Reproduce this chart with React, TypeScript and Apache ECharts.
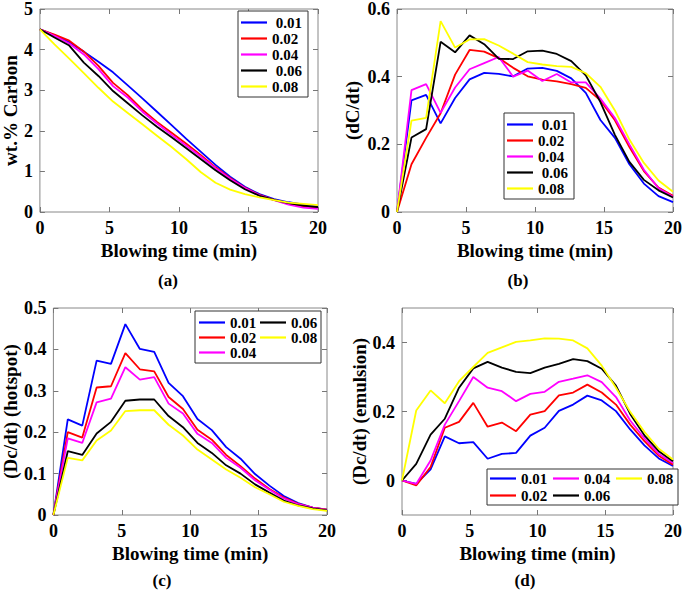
import React, { useEffect, useRef } from "react";
import * as echarts from "echarts";

// Blowing time (min) sample points
const TIME = [0, 1.05, 2.11, 3.16, 4.21, 5.26, 6.32, 7.37, 8.42, 9.47, 10.53, 11.58, 12.63, 13.68, 14.74, 15.79, 16.84, 17.89, 18.95, 20];

const NAMES = ["0.01", "0.02", "0.04", "0.06", "0.08"];
const COLORS = ["#0000ff", "#ff0000", "#ff00ff", "#000000", "#ffff00"];

// (a) wt.% Carbon
const a01 = [4.5, 4.35, 4.18, 3.95, 3.7, 3.44, 3.12, 2.8, 2.47, 2.14, 1.8, 1.48, 1.16, 0.87, 0.62, 0.44, 0.32, 0.24, 0.18, 0.13];
const a02 = [4.5, 4.37, 4.22, 3.95, 3.6, 3.18, 2.88, 2.52, 2.22, 1.95, 1.68, 1.4, 1.1, 0.84, 0.6, 0.42, 0.3, 0.2, 0.14, 0.11];
const a04 = [4.5, 4.34, 4.15, 3.88, 3.52, 3.1, 2.82, 2.47, 2.18, 1.9, 1.63, 1.36, 1.08, 0.82, 0.59, 0.41, 0.29, 0.18, 0.11, 0.08];
const a06 = [4.5, 4.3, 4.1, 3.68, 3.35, 2.98, 2.68, 2.38, 2.1, 1.84, 1.57, 1.3, 1.03, 0.78, 0.56, 0.4, 0.3, 0.22, 0.16, 0.12];
const a08 = [4.5, 4.13, 3.78, 3.42, 3.06, 2.72, 2.44, 2.16, 1.88, 1.6, 1.3, 0.98, 0.72, 0.55, 0.44, 0.36, 0.29, 0.23, 0.2, 0.17];

// (b) dC/dt
const b01 = [0, 0.33, 0.346, 0.262, 0.337, 0.392, 0.411, 0.408, 0.401, 0.424, 0.426, 0.417, 0.395, 0.352, 0.272, 0.219, 0.141, 0.084, 0.047, 0.029];
const b02 = [0, 0.141, 0.219, 0.292, 0.406, 0.479, 0.474, 0.455, 0.426, 0.401, 0.391, 0.386, 0.378, 0.367, 0.33, 0.271, 0.192, 0.121, 0.072, 0.048];
const b04 = [0, 0.36, 0.378, 0.293, 0.368, 0.422, 0.44, 0.458, 0.4, 0.418, 0.387, 0.408, 0.383, 0.383, 0.335, 0.278, 0.2, 0.125, 0.07, 0.045];
const b06 = [0, 0.22, 0.245, 0.503, 0.472, 0.522, 0.496, 0.453, 0.452, 0.475, 0.477, 0.467, 0.446, 0.404, 0.325, 0.228, 0.148, 0.095, 0.064, 0.043];
const b08 = [0, 0.27, 0.278, 0.564, 0.486, 0.51, 0.511, 0.492, 0.468, 0.443, 0.436, 0.431, 0.429, 0.41, 0.37, 0.3, 0.214, 0.145, 0.093, 0.06];

// (c) Dc/dt hotspot
const c01 = [0, 0.231, 0.216, 0.373, 0.365, 0.461, 0.401, 0.394, 0.319, 0.287, 0.232, 0.205, 0.164, 0.136, 0.099, 0.071, 0.046, 0.029, 0.018, 0.013];
const c02 = [0, 0.2, 0.187, 0.308, 0.311, 0.391, 0.352, 0.347, 0.285, 0.256, 0.206, 0.182, 0.145, 0.118, 0.088, 0.063, 0.042, 0.027, 0.018, 0.013];
const c04 = [0, 0.185, 0.174, 0.272, 0.281, 0.357, 0.327, 0.333, 0.269, 0.245, 0.196, 0.174, 0.138, 0.114, 0.084, 0.061, 0.04, 0.026, 0.018, 0.012];
const c06 = [0, 0.154, 0.145, 0.197, 0.225, 0.276, 0.279, 0.279, 0.239, 0.212, 0.174, 0.15, 0.12, 0.1, 0.074, 0.054, 0.035, 0.023, 0.016, 0.011];
const c08 = [0, 0.138, 0.132, 0.18, 0.204, 0.251, 0.253, 0.253, 0.218, 0.192, 0.158, 0.134, 0.11, 0.09, 0.067, 0.05, 0.032, 0.022, 0.014, 0.01];

// (d) Dc/dt emulsion
const d01 = [0, -0.01, 0.032, 0.128, 0.108, 0.111, 0.063, 0.077, 0.08, 0.13, 0.153, 0.202, 0.22, 0.246, 0.232, 0.201, 0.148, 0.102, 0.064, 0.042];
const d02 = [0, -0.014, 0.039, 0.153, 0.17, 0.225, 0.156, 0.168, 0.143, 0.191, 0.201, 0.247, 0.255, 0.278, 0.255, 0.22, 0.162, 0.114, 0.072, 0.046];
const d04 = [0, -0.01, 0.058, 0.162, 0.23, 0.3, 0.269, 0.259, 0.23, 0.251, 0.257, 0.286, 0.295, 0.305, 0.285, 0.242, 0.174, 0.122, 0.077, 0.051];
const d06 = [0, 0.048, 0.133, 0.179, 0.269, 0.325, 0.344, 0.327, 0.315, 0.311, 0.327, 0.338, 0.352, 0.346, 0.324, 0.275, 0.193, 0.131, 0.085, 0.056];
const d08 = [0, 0.203, 0.261, 0.224, 0.288, 0.329, 0.37, 0.386, 0.402, 0.406, 0.412, 0.411, 0.406, 0.383, 0.333, 0.269, 0.199, 0.141, 0.092, 0.061];

const D_Y_TICKS = [0, 0.2, 0.4];

const FONT = "Liberation Serif";

export default function App() {
  const ref = useRef<HTMLDivElement>(null);

  useEffect(() => {
    document.body.style.margin = "0";
    if (!ref.current) return;
    const chart = echarts.init(ref.current, null, { renderer: "svg" });

    const panels = [
      { grid: { left: 35, top: 5, width: 283, height: 207 }, data: [a01, a02, a04, a06, a08], yMin: 0, yMax: 5, yInt: 1, yName: "wt.% Carbon", yGap: 17, caption: "(a)", capX: 168, capY: 280 },
      { grid: { left: 397, top: 5, width: 280, height: 207 }, data: [b01, b02, b04, b06, b08], yMin: 0, yMax: 0.6, yInt: 0.2, yName: "(dC/dt)", yGap: 35, caption: "(b)", capX: 518, capY: 280 },
      { grid: { left: 47, top: 308, width: 280, height: 207 }, data: [c01, c02, c04, c06, c08], yMin: 0, yMax: 0.5, yInt: 0.1, yName: "(Dc/dt) (hotspot)", yGap: 30, caption: "(c)", capX: 162, capY: 580 },
      { grid: { left: 402, top: 308, width: 275, height: 207 }, data: [d01, d02, d04, d06, d08], yMin: -0.1, yMax: 0.5, yInt: 0, yName: "(Dc/dt) (emulsion)", yGap: 27, caption: "(d)", capX: 525, capY: 580 },
    ];

    const labelStyle = { fontFamily: FONT, fontWeight: "bold" as const, fontSize: 18, color: "#000" };
    const nameStyle = { fontFamily: FONT, fontWeight: "bold" as const, fontSize: 19, color: "#000" };
    const tickStyle = { show: true, inside: true, length: 5, lineStyle: { color: "#777", width: 1 } };
    const noLine = { show: false, onZero: false };

    const grids: any[] = [];
    const xAxes: any[] = [];
    const yAxes: any[] = [];
    const series: any[] = [];
    const graphics: any[] = [];

    panels.forEach((p, gi) => {
      grids.push({ ...p.grid, show: true, borderColor: "#888", borderWidth: 1, backgroundColor: "#fff" });
      xAxes.push({
        type: "value", gridIndex: gi, position: "bottom", min: 0, max: 20, interval: 5,
        axisLine: noLine, axisTick: tickStyle, splitLine: { show: false },
        axisLabel: { ...labelStyle, margin: 7, showMinLabel: true, showMaxLabel: true },
        name: "Blowing time (min)", nameLocation: "middle", nameGap: 29, nameTextStyle: nameStyle,
      });
      xAxes.push({
        type: "value", gridIndex: gi, position: "top", min: 0, max: 20, interval: 5,
        axisLine: noLine, axisTick: tickStyle, splitLine: { show: false }, axisLabel: { show: false },
      });
      const yCustom = p.yInt === 0;
      const leftY: any = {
        type: "value", gridIndex: gi, position: "left", min: p.yMin, max: p.yMax,
        axisLine: noLine, splitLine: { show: false },
        axisTick: yCustom ? { ...tickStyle, customValues: D_Y_TICKS } : tickStyle,
        axisLabel: yCustom
          ? { ...labelStyle, margin: 7, customValues: D_Y_TICKS, formatter: (v: number) => String(Math.round(v * 10) / 10) }
          : { ...labelStyle, margin: 7, showMinLabel: true, showMaxLabel: true },
        name: p.yName, nameLocation: "middle", nameGap: p.yGap, nameTextStyle: nameStyle, nameRotate: 90,
      };
      if (!yCustom) leftY.interval = p.yInt;
      yAxes.push(leftY);
      const rightY: any = {
        type: "value", gridIndex: gi, position: "right", min: p.yMin, max: p.yMax,
        axisLine: noLine, splitLine: { show: false }, axisLabel: { show: false },
        axisTick: yCustom ? { ...tickStyle, customValues: D_Y_TICKS } : tickStyle,
      };
      if (!yCustom) rightY.interval = p.yInt;
      yAxes.push(rightY);

      p.data.forEach((arr, si) => {
        series.push({
          type: "line", name: NAMES[si], xAxisIndex: gi * 2, yAxisIndex: gi * 2,
          data: TIME.map((t, i) => [t, arr[i]]),
          symbol: "none", lineStyle: { color: COLORS[si], width: 1.8 }, itemStyle: { color: COLORS[si] },
          z: 2 + si,
        });
      });

      graphics.push({
        type: "text", x: p.capX, y: p.capY,
        style: { text: p.caption, fontFamily: FONT, fontWeight: "bold", fontSize: 17, fill: "#000", textAlign: "center", textVerticalAlign: "middle" },
      });
    });

    const legendText = { fontFamily: FONT, fontWeight: "bold" as const, fontSize: 15, color: "#000" };
    const legendBase = {
      backgroundColor: "#fff", borderColor: "#333", borderWidth: 1, borderRadius: 0,
      icon: "path://M0,0L26,0L26,2.2L0,2.2Z",
      itemWidth: 26, itemHeight: 14, itemGap: 1, textStyle: legendText, selectedMode: false,
    };
    const spaced = (n: string) => (n === "0.01" || n === "0.06" ? " " + n : n);
    const trailing = (n: string) => n + " ";

    const legends = [
      { ...legendBase, data: NAMES, orient: "vertical", left: 238, top: 11, padding: [4, 6, 3, 3], formatter: spaced },
      { ...legendBase, data: NAMES, orient: "vertical", left: 504, top: 113, padding: [4, 6, 3, 3], formatter: spaced },
      { ...legendBase, data: NAMES, orient: "vertical", left: 195, top: 311, height: 53, itemGap: 0, padding: [4, 0, 3, 4], formatter: trailing },
      { ...legendBase, data: NAMES, orient: "vertical", left: 487, top: 469, height: 37, itemGap: 2, padding: [2, 1, 2, 3], formatter: trailing },
    ];

    chart.setOption({
      animation: false,
      backgroundColor: "#fff",
      textStyle: { fontFamily: FONT },
      grid: grids,
      xAxis: xAxes,
      yAxis: yAxes,
      series,
      legend: legends,
      graphic: graphics,
    });

    return () => chart.dispose();
  }, []);

  return <div ref={ref} style={{ width: 685, height: 590 }} />;
}
